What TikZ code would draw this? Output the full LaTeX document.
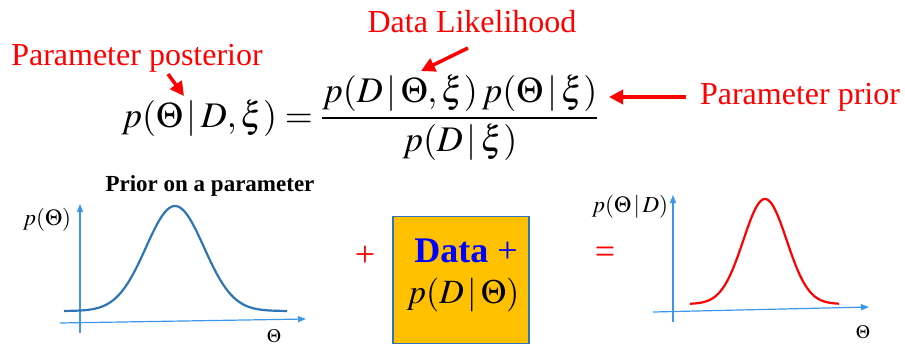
\documentclass[tikz,border=0pt]{standalone}
\usepackage{mathptmx}
\usepackage{fontspec}
\setmainfont{Liberation Serif}
\usetikzlibrary{arrows.meta}
\definecolor{axisblue}{RGB}{60,150,235}
\definecolor{curveblue}{RGB}{46,117,182}
\definecolor{boxorange}{RGB}{255,192,0}

\begin{document}
\begin{tikzpicture}[x=1pt,y=-1pt,
    every node/.style={inner sep=0pt},
    note/.style={text=red,font=\fontsize{32}{38}\selectfont},
    callout/.style={-{Triangle[length=14pt,width=14pt]},red,line width=3.5pt},
    axis/.style={-{Triangle[length=8pt,width=6pt]},axisblue,line width=1.2pt},
    axislabel/.style={font=\fontsize{23}{27}\selectfont},
    sign/.style={text=red,font=\fontsize{36}{40}\selectfont},
]
\useasboundingbox (0,0) rectangle (905,345);

% Bayes rule
\node[font=\fontsize{36}{42}\selectfont] (bayes) at (360,118)
  {$\displaystyle p(\Theta\,|\,D,\xi)=\frac{p(D\,|\,\Theta,\xi)\,p(\Theta\,|\,\xi)}{p(D\,|\,\xi)}$};

% Callouts
\node[note] (postLbl) at (137,58) {Parameter posterior};
\node[note] (likeLbl) at (472,22) {Data Likelihood};
\node[note] (priorLbl) at (800,97) {Parameter prior};
\coordinate (postFrom) at (168,74);
\coordinate (postTip) at (184,96);
\coordinate (likeFrom) at (468,48);
\coordinate (likeTip) at (421,71);
\coordinate (priorTip) at (609,97);
\path (priorLbl.west) ++(-14,0) coordinate (priorFrom);
\draw[callout] (postFrom) -- (postTip);
\draw[callout] (likeFrom) -- (likeTip);
\draw[callout] (priorFrom) -- (priorTip);

% --- Prior plot (left)
\node[font=\bfseries\fontsize{23}{27}\selectfont] (priorTitle) at (210,186) {Prior on a parameter};
\coordinate (ly) at (80,204);
\coordinate (lx) at (306,319);
\draw[axis] (80,333) -- (ly);
\draw[axis] (60,323) -- (lx);
\draw[curveblue,line width=2.2pt] plot[domain=64:287,samples=120,smooth]
  (\x,{311-105*exp(-((\x-175)/29)^2/2)});
\node[axislabel] (lyLbl) at (47,220) {$p(\Theta)$};
\node[axislabel,font=\fontsize{19}{23}\selectfont] (lxLbl) at (274,336) {$\Theta$};

% --- Data box
\node[sign] (plus) at (365,256) {+};
\node[draw=curveblue,line width=1.3pt,fill=boxorange,minimum width=136pt,minimum height=127pt] (dataBox) at (461,280) {};
\node[font=\fontsize{36}{40}\selectfont,text=blue] (dataTxt) at (466,251) {\textbf{Data} +};
\node[font=\fontsize{34}{40}\selectfont] (likeTxt) at (463,295) {$p(D\,|\,\Theta)$};

% --- Posterior plot (right)
\node[sign] (equals) at (605,255) {=};
\coordinate (ry) at (673,195);
\coordinate (rx) at (869,307);
\draw[axis] (673,322) -- (ry);
\draw[axis] (653,312) -- (rx);
\draw[red,line width=2.2pt] plot[domain=690:839,samples=120,smooth]
  (\x,{304-105*exp(-((\x-765)/21.7)^2/2)});
\node[axislabel] (ryLbl) at (630,207) {$p(\Theta\,|\,D)$};
\node[axislabel,font=\fontsize{19}{23}\selectfont] (rxLbl) at (863,332) {$\Theta$};
\end{tikzpicture}
\end{document}
